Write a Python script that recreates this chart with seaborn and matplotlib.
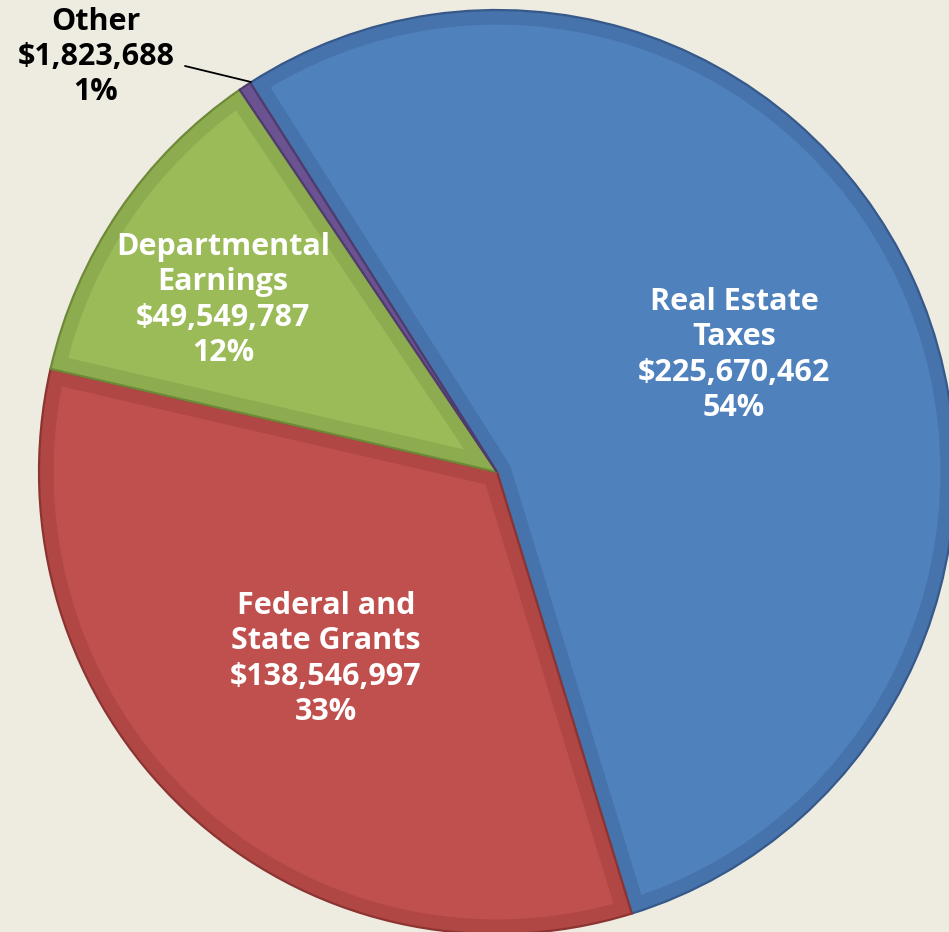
import matplotlib
matplotlib.use("Agg")
import matplotlib.pyplot as plt
import seaborn as sns
from matplotlib.patches import Wedge

# ---- data ----
categories = ["Real Estate\nTaxes", "Federal and\nState Grants", "Departmental\nEarnings", "Other"]
amounts = [225670462, 138546997, 49549787, 1823688]
amount_labels = ["$225,670,462", "$138,546,997", "$49,549,787", "$1,823,688"]
pct_labels = ["54%", "33%", "12%", "1%"]

# ---- style ----
bg = "#EEECE1"
sns.set_style("white", {"axes.facecolor": bg, "figure.facecolor": bg})
plt.rcParams["font.family"] = ["Open Sans", "DejaVu Sans"]

main_colors = sns.color_palette(["#4F81BD", "#C0504D", "#9BBB59", "#8064A2"])
band_colors = ["#4673AC", "#B04744", "#8DAC50", "#6B5290"]
line_colors = ["#36598A", "#8C3432", "#6E8A38", "#4F3B6E"]

W, H = 949, 932
fig = plt.figure(figsize=(W / 100, H / 100), dpi=100)
cx, cy, rx, ry = 497, 472, 458, 462
ax = fig.add_axes([(cx - rx) / W, (H - cy - ry) / H, 2 * rx / W, 2 * ry / H])

wedges, _ = ax.pie(amounts, colors=main_colors, startangle=122.6, counterclock=False,
                   radius=1, center=(0, 0), frame=False,
                   wedgeprops=dict(linewidth=0))
ax.set_xlim(-1, 1)
ax.set_ylim(-1, 1)
ax.set_aspect("auto")
ax.axis("off")

for w, bc, lc in zip(wedges, band_colors, line_colors):
    w.set_clip_on(False)
    band = Wedge(w.center, w.r, w.theta1, w.theta2, facecolor="none",
                 edgecolor=bc, linewidth=21, joinstyle="miter")
    ax.add_patch(band)
    band.set_clip_path(w)
    outline = Wedge(w.center, w.r, w.theta1, w.theta2, facecolor="none",
                    edgecolor=lc, linewidth=1.6, joinstyle="miter")
    ax.add_patch(outline)
    outline.set_clip_on(False)

def to_data(px, py):
    return (px - cx) / rx, (cy - py) / ry

fs = 22
ls = 1.23
text_px = [(734, 355), (326, 659), (223, 300)]
for i, (px, py) in enumerate(text_px):
    x, y = to_data(px, py)
    ax.text(x, y, f"{categories[i]}\n{amount_labels[i]}\n{pct_labels[i]}",
            ha="center", va="center", color="white", fontsize=fs,
            fontweight="bold", linespacing=ls)

# Other label outside with leader line
ox, oy = to_data(96, 57)
ax.text(ox, oy, f"{categories[3]}\n{amount_labels[3]}\n{pct_labels[3]}",
        ha="center", va="center", color="black", fontsize=fs,
        fontweight="bold", linespacing=ls, clip_on=False)
(x0, y0), (x1, y1) = to_data(185, 66), to_data(251, 82)
ax.plot([x0, x1], [y0, y1], color="black", lw=1.3, clip_on=False)

fig.savefig("out.png", dpi=100, facecolor=bg)
